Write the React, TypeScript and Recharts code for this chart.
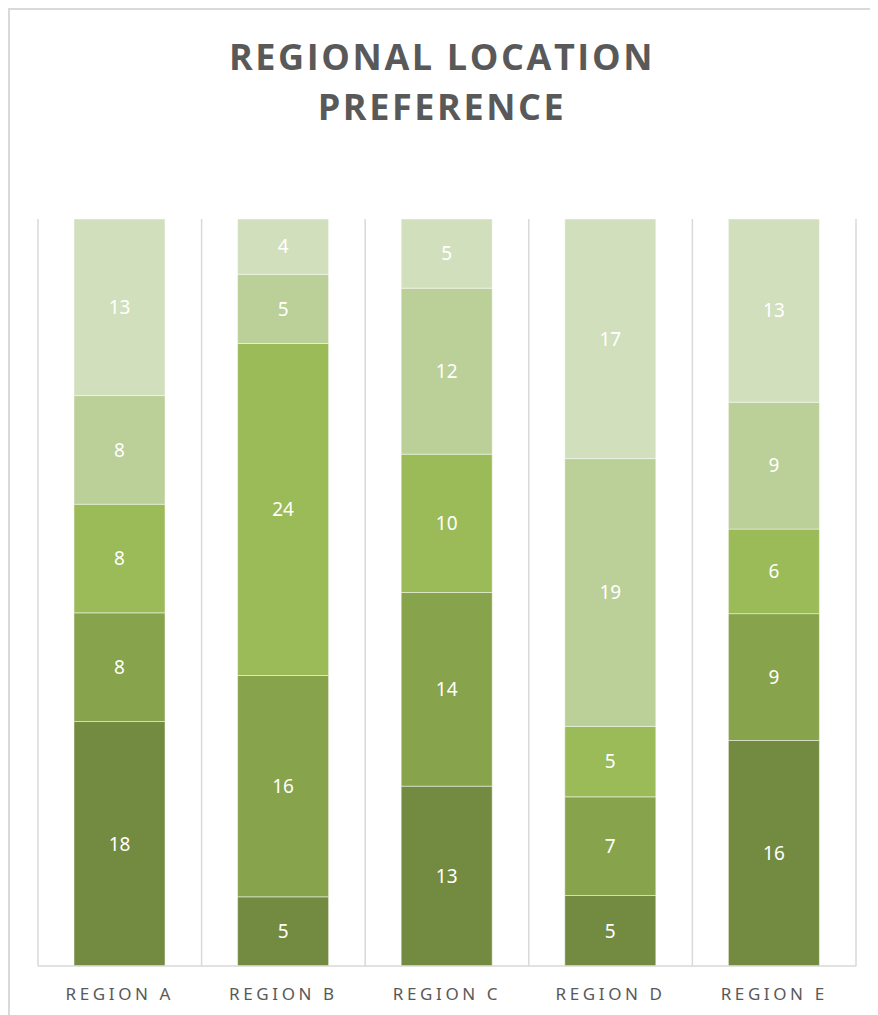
import { BarChart, Bar, XAxis, YAxis, CartesianGrid, LabelList } from 'recharts';

const regions = ['REGION A', 'REGION B', 'REGION C', 'REGION D', 'REGION E'];
const tier1 = [18, 5, 13, 5, 16];
const tier2 = [8, 16, 14, 7, 9];
const tier3 = [8, 24, 10, 5, 6];
const tier4 = [8, 5, 12, 19, 9];
const tier5 = [13, 4, 5, 17, 13];

const seriesKeys = ['tier1', 'tier2', 'tier3', 'tier4', 'tier5'];
const seriesColors = ['#738b41', '#87a34b', '#9bbb59', '#bbcf98', '#d1dfbd'];

const data = regions.map((region, i) => ({
  region,
  tier1: tier1[i],
  tier2: tier2[i],
  tier3: tier3[i],
  tier4: tier4[i],
  tier5: tier5[i],
}));

const CHART_W = 870;
const CHART_H = 1010;
const MARGIN = { top: 209, right: 24, left: 28, bottom: 0 };

export default function App() {
  // vertical gridlines sit on the category boundaries, not the centers
  const boundaryLines = ({ offset }: any) => {
    const step = offset.width / regions.length;
    return Array.from({ length: regions.length + 1 }, (_, i) => offset.left + i * step);
  };

  return (
    <div
      style={{
        position: 'relative',
        width: CHART_W,
        height: CHART_H,
        border: '2px solid #d9d9d9',
        background: '#fff',
      }}
    >
      <div
        style={{
          position: 'absolute',
          top: 22,
          left: 0,
          width: '100%',
          paddingRight: 6,
          boxSizing: 'border-box',
          textAlign: 'center',
          fontFamily: '"Open Sans", sans-serif',
          fontWeight: 700,
          fontSize: 36,
          lineHeight: '50px',
          letterSpacing: 2.6,
          color: '#595959',
        }}
      >
        REGIONAL LOCATION
        <br />
        PREFERENCE
      </div>
      <BarChart
        width={CHART_W}
        height={CHART_H}
        data={data}
        margin={MARGIN}
        stackOffset="expand"
        barSize={91}
      >
        <CartesianGrid
          horizontal={false}
          stroke="#d9d9d9"
          strokeWidth={1.5}
          verticalCoordinatesGenerator={boundaryLines}
        />
        <XAxis
          dataKey="region"
          height={54}
          axisLine={{ stroke: '#d9d9d9', strokeWidth: 1.5 }}
          tickLine={false}
          tick={{
            fill: '#595959',
            fontSize: 17,
            fontFamily: '"Noto Sans", sans-serif',
            letterSpacing: 3.6,
            dy: 14,
          }}
        />
        <YAxis hide domain={[0, 1]} />
        {seriesKeys.map((key, i) => (
          <Bar
            key={key}
            dataKey={key}
            stackId="a"
            fill={seriesColors[i]}
            stroke="rgba(255,255,255,0.45)"
            strokeWidth={1}
            isAnimationActive={false}
          >
            <LabelList
              dataKey={key}
              position="center"
              fill="#ffffff"
              fontSize={19}
              fontFamily='"Noto Sans", sans-serif'
            />
          </Bar>
        ))}
      </BarChart>
    </div>
  );
}
